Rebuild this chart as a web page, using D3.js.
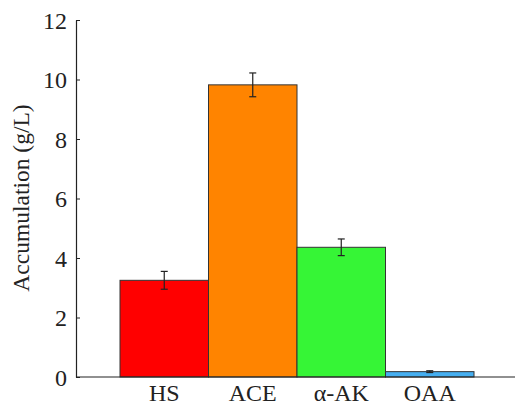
<!DOCTYPE html>
<html>
<head>
<meta charset="utf-8">
<script src="https://cdn.jsdelivr.net/npm/d3@7"></script>
<style>
  body { margin: 0; background: #fff; }
  svg text { font-family: "Liberation Serif", "Times New Roman", serif; fill: #222; }
</style>
</head>
<body>
<div id="chart"></div>
<script>
var categories = ["HS", "ACE", "α-AK", "OAA"];
var values = [3.25, 9.82, 4.36, 0.18];
var errors = [0.3, 0.4, 0.28, 0.03];
var colors = ["#ff0000", "#ff8400", "#36f536", "#45aef0"];
var yTicks = [0, 2, 4, 6, 8, 10, 12];

function render_chart() {
    var width = 515, height = 405;
    var font = "'Liberation Serif', 'Times New Roman', serif";

    var svg = d3.select("#chart").append("svg")
        .attr("width", width)
        .attr("height", height);

    var x = d3.scaleBand()
        .domain(categories)
        .range([120, 474])
        .padding(0);

    var y = d3.scaleLinear()
        .domain([0, 12])
        .range([377, 20]);

    // bars
    svg.selectAll(".bar")
        .data(categories)
        .enter().append("rect")
        .attr("class", "bar")
        .attr("x", function (d) { return x(d); })
        .attr("width", x.bandwidth())
        .attr("y", function (d, i) { return y(values[i]); })
        .attr("height", function (d, i) { return y(0) - y(values[i]); })
        .style("fill", function (d, i) { return colors[i]; })
        .style("stroke", "#333")
        .style("stroke-width", 1);

    // error bars
    var err = svg.selectAll(".err")
        .data(categories)
        .enter().append("g")
        .attr("class", "err")
        .style("stroke", "#222")
        .style("stroke-width", 1.2);

    var cx = function (d) { return x(d) + x.bandwidth() / 2; };
    err.append("line")
        .attr("x1", cx).attr("x2", cx)
        .attr("y1", function (d, i) { return y(values[i] + errors[i]); })
        .attr("y2", function (d, i) { return y(values[i] - errors[i]); });
    [1, -1].forEach(function (s) {
        err.append("line")
            .attr("x1", function (d) { return cx(d) - 3.5; })
            .attr("x2", function (d) { return cx(d) + 3.5; })
            .attr("y1", function (d, i) { return y(values[i] + s * errors[i]); })
            .attr("y2", function (d, i) { return y(values[i] + s * errors[i]); });
    });

    // y axis (ticks pointing inward)
    var yAxis = svg.append("g")
        .attr("transform", "translate(76,0)")
        .call(d3.axisRight(y).tickValues(yTicks).tickSize(4).tickSizeOuter(0));
    yAxis.select(".domain").style("stroke", "#222").style("stroke-width", 1.2);
    yAxis.selectAll(".tick line").style("stroke", "#222");
    yAxis.selectAll(".tick text")
        .attr("x", -9)
        .attr("dy", "0.34em")
        .style("text-anchor", "end")
        .style("font-size", "24px")
        .style("font-family", font);

    // x axis
    var xAxis = svg.append("g")
        .attr("transform", "translate(0,377)")
        .call(d3.axisBottom(x).tickSize(0).tickSizeOuter(0));
    xAxis.select(".domain").remove();
    svg.append("line")
        .attr("x1", 76).attr("x2", width)
        .attr("y1", 377).attr("y2", 377)
        .style("stroke", "#222")
        .style("stroke-width", 1.2);
    xAxis.selectAll(".tick text")
        .attr("y", 24)
        .attr("dy", "0em")
        .style("font-size", "24px")
        .style("font-family", font);

    // axis title
    svg.append("text")
        .attr("transform", "translate(29,198) rotate(-90)")
        .style("text-anchor", "middle")
        .style("font-size", "23.5px")
        .style("font-family", font)
        .text("Accumulation (g/L)");
}

render_chart();
</script>
</body>
</html>
